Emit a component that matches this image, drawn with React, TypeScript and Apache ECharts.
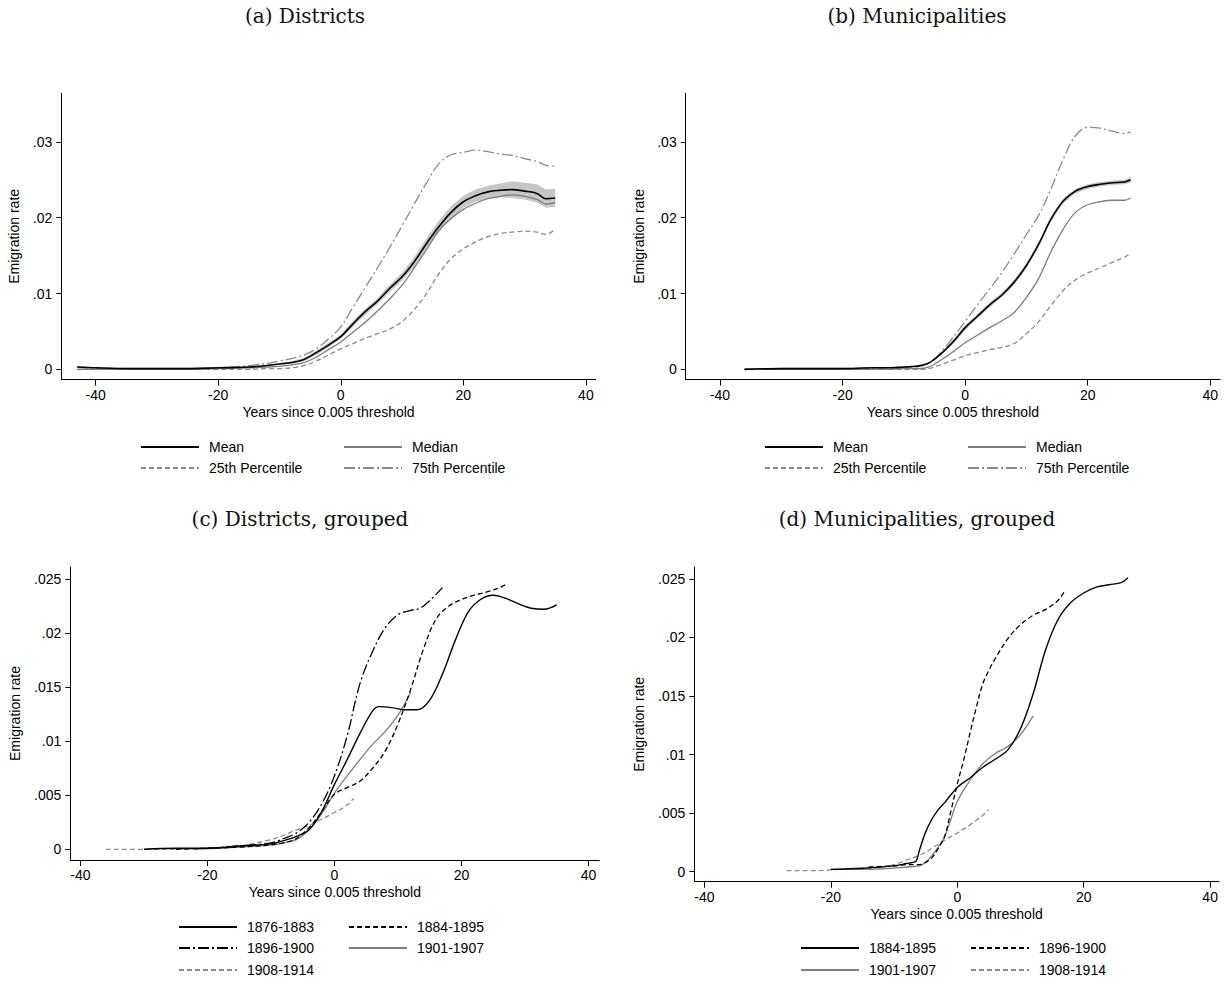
import React, { useEffect, useRef } from 'react';
import * as echarts from 'echarts';

// ---------- Panel (a) Districts ----------
const aYears = [-43, -40, -35, -30, -25, -20, -15, -12, -10, -8, -6, -4, -2, 0, 2, 4, 6, 8, 10, 12, 14, 16, 18, 20, 22, 24, 26, 28, 30, 32, 33.5, 35];
const aMean = [0.0003, 0.0002, 0.0001, 0.0001, 0.0001, 0.0002, 0.0003, 0.0005, 0.0007, 0.0009, 0.0013, 0.0022, 0.0032, 0.0043, 0.0060, 0.0076, 0.0090, 0.0107, 0.0122, 0.0142, 0.0166, 0.0188, 0.0207, 0.0221, 0.0229, 0.0234, 0.0236, 0.0237, 0.0235, 0.0232, 0.0225, 0.0226];
const aMeanLo = [0.0002, 0.0001, 0.0000, 0.0000, 0.0000, 0.0001, 0.0002, 0.0004, 0.0006, 0.0007, 0.0011, 0.0019, 0.0029, 0.0040, 0.0056, 0.0072, 0.0086, 0.0102, 0.0117, 0.0136, 0.0159, 0.0180, 0.0199, 0.0213, 0.0221, 0.0226, 0.0227, 0.0226, 0.0224, 0.0220, 0.0213, 0.0214];
const aMeanHi = [0.0004, 0.0003, 0.0002, 0.0002, 0.0002, 0.0003, 0.0004, 0.0006, 0.0008, 0.0011, 0.0015, 0.0025, 0.0035, 0.0046, 0.0064, 0.0080, 0.0094, 0.0112, 0.0127, 0.0148, 0.0173, 0.0196, 0.0215, 0.0229, 0.0237, 0.0242, 0.0245, 0.0248, 0.0246, 0.0244, 0.0237, 0.0238];
const aMedian = [0.0000, 0.0000, 0.0000, 0.0000, 0.0000, 0.0001, 0.0002, 0.0003, 0.0004, 0.0006, 0.0009, 0.0016, 0.0026, 0.0036, 0.0049, 0.0062, 0.0077, 0.0093, 0.0111, 0.0134, 0.0158, 0.0183, 0.0199, 0.0211, 0.0219, 0.0225, 0.0228, 0.0230, 0.0228, 0.0224, 0.0218, 0.0220];
const aP25 = [0.0000, 0.0000, 0.0000, 0.0000, 0.0000, 0.0000, 0.0000, 0.0001, 0.0001, 0.0002, 0.0005, 0.0011, 0.0019, 0.0027, 0.0034, 0.0041, 0.0047, 0.0053, 0.0063, 0.0079, 0.0100, 0.0126, 0.0146, 0.0159, 0.0168, 0.0175, 0.0179, 0.0181, 0.0182, 0.0181, 0.0178, 0.0185];
const aP75 = [0.0003, 0.0001, 0.0001, 0.0001, 0.0001, 0.0002, 0.0005, 0.0008, 0.0011, 0.0014, 0.0019, 0.0027, 0.0040, 0.0056, 0.0082, 0.0108, 0.0134, 0.0161, 0.0189, 0.0218, 0.0246, 0.0271, 0.0283, 0.0286, 0.0289, 0.0287, 0.0284, 0.0282, 0.0278, 0.0274, 0.0269, 0.0268];

// ---------- Panel (b) Municipalities ----------
const bYears = [-36, -30, -25, -20, -15, -12, -10, -8, -6, -4, -2, 0, 2, 4, 6, 8, 10, 12, 14, 16, 18, 20, 22, 24, 26, 27];
const bMean = [0.0000, 0.0001, 0.0001, 0.0001, 0.0002, 0.0002, 0.0003, 0.0004, 0.0008, 0.0020, 0.0036, 0.0055, 0.0070, 0.0085, 0.0098, 0.0115, 0.0137, 0.0165, 0.0198, 0.0222, 0.0235, 0.0241, 0.0244, 0.0246, 0.0247, 0.0250];
const bMeanLo = [0.0000, 0.0000, 0.0000, 0.0000, 0.0001, 0.0001, 0.0002, 0.0003, 0.0007, 0.0018, 0.0033, 0.0052, 0.0067, 0.0082, 0.0095, 0.0112, 0.0134, 0.0162, 0.0195, 0.0219, 0.0232, 0.0238, 0.0241, 0.0243, 0.0244, 0.0246];
const bMeanHi = [0.0001, 0.0002, 0.0002, 0.0002, 0.0003, 0.0003, 0.0004, 0.0005, 0.0009, 0.0022, 0.0039, 0.0058, 0.0073, 0.0088, 0.0101, 0.0118, 0.0140, 0.0168, 0.0201, 0.0225, 0.0238, 0.0244, 0.0247, 0.0249, 0.0250, 0.0254];
const bMedian = [0.0000, 0.0000, 0.0000, 0.0000, 0.0000, 0.0000, 0.0001, 0.0001, 0.0003, 0.0012, 0.0023, 0.0035, 0.0045, 0.0055, 0.0064, 0.0075, 0.0095, 0.0120, 0.0155, 0.0185, 0.0207, 0.0217, 0.0221, 0.0223, 0.0223, 0.0226];
const bP25 = [0.0000, 0.0000, 0.0000, 0.0000, 0.0000, 0.0000, 0.0000, 0.0000, 0.0001, 0.0006, 0.0012, 0.0018, 0.0022, 0.0026, 0.0029, 0.0034, 0.0047, 0.0063, 0.0084, 0.0104, 0.0118, 0.0127, 0.0134, 0.0141, 0.0148, 0.0153];
const bP75 = [0.0000, 0.0001, 0.0001, 0.0001, 0.0001, 0.0002, 0.0002, 0.0003, 0.0008, 0.0022, 0.0042, 0.0063, 0.0085, 0.0106, 0.0128, 0.0152, 0.0178, 0.0203, 0.0238, 0.0277, 0.0308, 0.0319, 0.0318, 0.0314, 0.0311, 0.0313];

// ---------- Panel (c) Districts, grouped ----------
const c1876X = [-30, -25, -20, -15, -10, -8, -6, -4, -2, 0, 2, 4, 6, 7, 9, 11, 13, 15, 17, 19, 21, 23, 25, 27, 29, 31, 33, 35];
const c1876Y = [0.0000, 0.0001, 0.0001, 0.0003, 0.0005, 0.0008, 0.0012, 0.0018, 0.0035, 0.0060, 0.0083, 0.0107, 0.0128, 0.0132, 0.0131, 0.0129, 0.0129, 0.0138, 0.0162, 0.0193, 0.0219, 0.0231, 0.0235, 0.0232, 0.0227, 0.0223, 0.0222, 0.0226];
const c1884X = [-25, -20, -15, -10, -8, -6, -4, -2, 0, 2, 4, 6, 8, 10, 12, 14, 16, 18, 20, 22, 24, 26, 27];
const c1884Y = [0.0000, 0.0001, 0.0002, 0.0004, 0.0006, 0.0010, 0.0020, 0.0035, 0.0051, 0.0057, 0.0063, 0.0075, 0.0091, 0.0116, 0.0148, 0.0185, 0.0213, 0.0225, 0.0231, 0.0235, 0.0238, 0.0242, 0.0245];
const c1896X = [-20, -15, -10, -8, -6, -4, -2, 0, 2, 4, 6, 8, 10, 12, 13.5, 15, 17];
const c1896Y = [0.0001, 0.0003, 0.0006, 0.0010, 0.0015, 0.0025, 0.0042, 0.0068, 0.0105, 0.0153, 0.0183, 0.0205, 0.0217, 0.0221, 0.0223, 0.0230, 0.0242];
const c1901X = [-22, -15, -10, -8, -6, -4, -2, 0, 2, 4, 6, 8, 10, 12];
const c1901Y = [0.0000, 0.0002, 0.0004, 0.0006, 0.0009, 0.0018, 0.0033, 0.0052, 0.0068, 0.0083, 0.0097, 0.0109, 0.0124, 0.0145];
const c1908X = [-36, -30, -25, -20, -15, -10, -8, -6, -4, -2, 0, 2, 3];
const c1908Y = [0.0000, 0.0000, 0.0000, 0.0001, 0.0003, 0.0009, 0.0013, 0.0018, 0.0022, 0.0028, 0.0034, 0.0041, 0.0047];

// ---------- Panel (d) Municipalities, grouped ----------
const d1884X = [-20, -15, -10, -8, -7, -6.5, -6, -5, -4, -3, -2, 0, 2, 4, 6, 8, 10, 12, 14, 16, 18, 20, 22, 24, 26, 27];
const d1884Y = [0.0002, 0.0003, 0.0005, 0.0007, 0.0008, 0.0009, 0.0018, 0.0034, 0.0045, 0.0053, 0.0059, 0.0072, 0.0080, 0.0089, 0.0096, 0.0104, 0.0122, 0.0152, 0.0190, 0.0216, 0.0230, 0.0238, 0.0243, 0.0245, 0.0247, 0.0251];
const d1896X = [-14, -10, -8, -6, -5, -4, -3, -2, -1, 0, 1, 2, 3, 4, 5, 6, 8, 10, 12, 14, 16, 17];
const d1896Y = [0.0004, 0.0005, 0.0006, 0.0006, 0.0008, 0.0012, 0.0020, 0.0030, 0.0052, 0.0075, 0.0095, 0.0118, 0.0140, 0.0160, 0.0172, 0.0182, 0.0199, 0.0211, 0.0219, 0.0224, 0.0232, 0.0240];
const d1901X = [-20, -15, -10, -8, -6, -5, -4, -3, -2, -1, 0, 2, 4, 6, 8, 10, 12];
const d1901Y = [0.0002, 0.0002, 0.0003, 0.0004, 0.0005, 0.0008, 0.0014, 0.0021, 0.0030, 0.0045, 0.0060, 0.0078, 0.0092, 0.0101, 0.0107, 0.0117, 0.0133];
const d1908X = [-27, -22, -18, -15, -12, -10, -8, -6, -4, -2, 0, 2, 4, 5];
const d1908Y = [0.0001, 0.0001, 0.0002, 0.0002, 0.0004, 0.0006, 0.0010, 0.0014, 0.0020, 0.0027, 0.0033, 0.0040, 0.0048, 0.0053];

// ---------- Axis ticks ----------
const xTicks = [-40, -20, 0, 20, 40];
const yTicksTop = [0, 0.01, 0.02, 0.03];
const yTicksBottom = [0, 0.005, 0.01, 0.015, 0.02, 0.025];

const titles = ['(a) Districts', '(b) Municipalities', '(c) Districts, grouped', '(d) Municipalities, grouped'];
const xAxisTitle = 'Years since 0.005 threshold';
const yAxisTitle = 'Emigration rate';

const SANS = '"Liberation Sans", Arial, Helvetica, sans-serif';
const SERIF = '"DejaVu Serif", "Liberation Serif", serif';
const BLACK = '#000000';
const GRAY = '#7d7d7d';
const GRAYD = '#8a8a8a';
const BAND = '#c6c6c6';
const DASH = [5, 3];
const DASHDOT = [11, 3, 2, 3];

const pairs = (xs: number[], ys: number[]) => xs.map((x, i) => [x, ys[i]]);
const fmtY = (v: number) => (v === 0 ? '0' : String(+v.toFixed(4)).replace(/^0/, ''));

function lineSeries(name: string, idx: number, xs: number[], ys: number[], color: string, width: number, type: any, z = 3) {
  return {
    type: 'line',
    name,
    xAxisIndex: idx,
    yAxisIndex: idx,
    data: pairs(xs, ys),
    showSymbol: false,
    symbol: 'none',
    smooth: 0.35,
    lineStyle: { color, width, type },
    itemStyle: { color },
    z,
  };
}

function bandSeries(idx: number, xs: number[], lo: number[], hi: number[]) {
  return {
    type: 'custom',
    name: 'band-' + idx,
    xAxisIndex: idx,
    yAxisIndex: idx,
    silent: true,
    z: 1,
    data: xs.map((x, i) => [x, lo[i], hi[i]]),
    encode: { x: 0, y: [1, 2] },
    renderItem: (params: any, api: any) => {
      if (params.dataIndex !== 0) return null;
      const top = xs.map((x, i) => api.coord([x, hi[i]]));
      const bot = xs.map((x, i) => api.coord([x, lo[i]])).reverse();
      return {
        type: 'polygon',
        shape: { points: top.concat(bot) },
        style: { fill: BAND, stroke: 'none' },
      };
    },
  };
}

function xAxis(idx: number, min: number, max: number) {
  return {
    type: 'value', gridIndex: idx, min, max,
    name: xAxisTitle, nameLocation: 'middle', nameGap: 25,
    nameTextStyle: { fontFamily: SANS, fontSize: 14, color: BLACK },
    axisLine: { show: true, onZero: false, lineStyle: { color: BLACK, width: 1 } },
    axisTick: { show: true, length: 6, lineStyle: { color: BLACK }, customValues: xTicks },
    axisLabel: { fontFamily: SANS, fontSize: 14, color: BLACK, margin: 8, customValues: xTicks, formatter: (v: number) => String(v) },
    splitLine: { show: false },
  };
}

function yAxis(idx: number, min: number, max: number, ticks: number[], gap: number) {
  return {
    type: 'value', gridIndex: idx, min, max,
    name: yAxisTitle, nameLocation: 'middle', nameGap: gap,
    nameTextStyle: { fontFamily: SANS, fontSize: 14, color: BLACK },
    axisLine: { show: true, onZero: false, lineStyle: { color: BLACK, width: 1 } },
    axisTick: { show: true, length: 5, lineStyle: { color: BLACK }, customValues: ticks },
    axisLabel: { fontFamily: SANS, fontSize: 14, color: BLACK, margin: 9, customValues: ticks, formatter: fmtY },
    splitLine: { show: false },
  };
}

function legendItem(name: string, left: number, rowCenter: number) {
  return {
    data: [name],
    left,
    top: rowCenter - 7,
    padding: 0,
    itemWidth: 58,
    itemHeight: 14,
    selectedMode: false,
    itemStyle: { opacity: 0, borderWidth: 0 },
    formatter: (n: string) => n.split('#')[0],
    textStyle: { fontFamily: SANS, fontSize: 14, color: BLACK, padding: [0, 0, 0, 5] },
  };
}

function buildOption() {
  const grids = [
    { left: 61.3, top: 93.3, width: 534.4, height: 286.2 },
    { left: 685.7, top: 93.3, width: 534.4, height: 286.2 },
    { left: 70.3, top: 567, width: 529, height: 293 },
    { left: 694.3, top: 567, width: 524.7, height: 314.7 },
  ];
  const series: any[] = [
    bandSeries(0, aYears, aMeanLo, aMeanHi),
    lineSeries('75th Percentile', 0, aYears, aP75, GRAYD, 1.3, DASHDOT),
    lineSeries('25th Percentile', 0, aYears, aP25, GRAYD, 1.3, DASH),
    lineSeries('Median', 0, aYears, aMedian, GRAY, 1.3, 'solid'),
    lineSeries('Mean', 0, aYears, aMean, BLACK, 1.6, 'solid', 4),

    bandSeries(1, bYears, bMeanLo, bMeanHi),
    lineSeries('75th Percentile#b', 1, bYears, bP75, GRAYD, 1.3, DASHDOT),
    lineSeries('25th Percentile#b', 1, bYears, bP25, GRAYD, 1.3, DASH),
    lineSeries('Median#b', 1, bYears, bMedian, GRAY, 1.3, 'solid'),
    lineSeries('Mean#b', 1, bYears, bMean, BLACK, 1.6, 'solid', 4),

    lineSeries('1908-1914', 2, c1908X, c1908Y, GRAYD, 1.3, DASH),
    lineSeries('1901-1907', 2, c1901X, c1901Y, GRAY, 1.3, 'solid'),
    lineSeries('1896-1900', 2, c1896X, c1896Y, BLACK, 1.3, DASHDOT),
    lineSeries('1884-1895', 2, c1884X, c1884Y, BLACK, 1.3, DASH),
    lineSeries('1876-1883', 2, c1876X, c1876Y, BLACK, 1.4, 'solid'),

    lineSeries('1908-1914#d', 3, d1908X, d1908Y, GRAYD, 1.3, DASH),
    lineSeries('1901-1907#d', 3, d1901X, d1901Y, GRAY, 1.3, 'solid'),
    lineSeries('1896-1900#d', 3, d1896X, d1896Y, BLACK, 1.3, DASH),
    lineSeries('1884-1895#d', 3, d1884X, d1884Y, BLACK, 1.4, 'solid'),
  ];

  return {
    animation: false,
    backgroundColor: '#ffffff',
    title: [
      { text: titles[0], left: 305, top: 6 },
      { text: titles[1], left: 917, top: 6 },
      { text: titles[2], left: 300, top: 509 },
      { text: titles[3], left: 917, top: 509 },
    ].map((t) => ({ ...t, textAlign: 'center', padding: 0, textStyle: { fontFamily: SERIF, fontSize: 20, fontWeight: 'normal', color: '#111111' } })),
    grid: grids,
    xAxis: [xAxis(0, -45.6, 41.6), xAxis(1, -45.6, 41.6), xAxis(2, -41.6, 41.7), xAxis(3, -41.6, 41.4)],
    yAxis: [
      yAxis(0, -0.00134, 0.0364, yTicksTop, 40),
      yAxis(1, -0.00134, 0.0364, yTicksTop, 40),
      yAxis(2, -0.00099, 0.02611, yTicksBottom, 48),
      yAxis(3, -0.000854, 0.02602, yTicksBottom, 48),
    ],
    legend: [
      legendItem('Mean', 140, 447),
      legendItem('Median', 343, 447),
      legendItem('25th Percentile', 140, 468),
      legendItem('75th Percentile', 343, 468),
      legendItem('Mean#b', 764, 447),
      legendItem('Median#b', 967, 447),
      legendItem('25th Percentile#b', 764, 468),
      legendItem('75th Percentile#b', 967, 468),
      legendItem('1876-1883', 178, 927),
      legendItem('1884-1895', 348, 927),
      legendItem('1896-1900', 178, 948),
      legendItem('1901-1907', 348, 948),
      legendItem('1908-1914', 178, 970),
      legendItem('1884-1895#d', 800, 948),
      legendItem('1896-1900#d', 970, 948),
      legendItem('1901-1907#d', 800, 970),
      legendItem('1908-1914#d', 970, 970),
    ],
    series,
  };
}

export default function App() {
  const ref = useRef<HTMLDivElement>(null);
  useEffect(() => {
    if (!ref.current) return;
    const chart = echarts.init(ref.current, null, { renderer: 'svg' });
    chart.setOption(buildOption() as any);
    return () => chart.dispose();
  }, []);
  return (
    <div
      ref={ref}
      style={{ position: 'fixed', left: 0, top: 0, width: 1225, height: 985, background: '#ffffff' }}
    />
  );
}
